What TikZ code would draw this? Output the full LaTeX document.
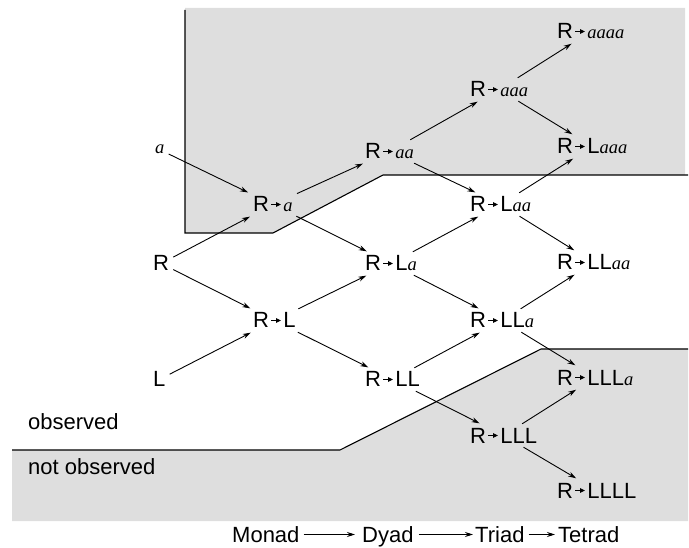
\documentclass[tikz,border=0pt]{standalone}
\usepackage{fontspec}
\setmainfont{Liberation Sans}
\newfontfamily\itser{Liberation Serif}
\usetikzlibrary{arrows.meta}
\newcommand{\ia}[1]{{\fontsize{18.5}{18.5}\selectfont\itser\itshape #1}}
\newcommand{\rar}{\kern1.5pt\tikz[baseline=-7.5pt]\draw[line width=0.9pt,-{Triangle[length=5pt,width=4.5pt]}] (0pt,0pt)--(10pt,0pt);\kern2pt}
\begin{document}
\begin{tikzpicture}[x=1pt,y=-1pt,
  st/.style={anchor=base west, inner sep=4pt, text height=15pt, text depth=0pt, font=\fontsize{22}{24}\selectfont},
  lbl/.style={anchor=base west, inner sep=0pt, font=\fontsize{22}{24}\selectfont},
  bot/.style={anchor=base west, inner sep=2pt, text height=15pt, text depth=0pt, font=\fontsize{22}{24}\selectfont},
  con/.style={-{Stealth[length=8pt,width=5pt]}, line width=0.9pt, shorten >=1pt},
  bnd/.style={line width=1.1pt},
  shadearea/.style={fill=black!13, draw=none}]
\useasboundingbox (0,0) rectangle (689,548);
% shaded regions
\fill[shadearea] (185,8) -- (685,8) -- (685,175) -- (383,175) -- (273,233) -- (185,233) -- cycle;
\fill[shadearea] (12,450) -- (340,450) -- (541,349) -- (688,349) -- (688,521) -- (12,521) -- cycle;
\draw[bnd] (185,10) -- (185,233) -- (273,233) -- (383,175) -- (688,175);
\draw[bnd] (12,450) -- (340,450) -- (541,349) -- (688,349);
% labels
\node[lbl] (obs) at (28,430) {observed};
\node[lbl] (nobs) at (28,475) {not observed};
% nodes
\node[anchor=base west, inner sep=4pt] (a) at (151,154) {\ia{a}};
\node[st] (R) at (149,271) {R};
\node[st] (L) at (149,387) {L};
\node[st] (Ra) at (249,212) {R\rar\ia{a}};
\node[st] (RL) at (249,328) {R\rar L};
\node[st] (Raa) at (361,159) {R\rar\ia{aa}};
\node[st] (RLa) at (361,271) {R\rar L\ia{a}};
\node[st] (RLL) at (361,387) {R\rar LL};
\node[st] (Raaa) at (466,97) {R\rar\ia{aaa}};
\node[st] (RLaa) at (466,212) {R\rar L\ia{aa}};
\node[st] (RLLa) at (466,328) {R\rar LL\ia{a}};
\node[st] (RLLL) at (466,443) {R\rar LLL};
\node[st] (Raaaa) at (553,39) {R\rar\ia{aaaa}};
\node[st] (RLaaa) at (553,154) {R\rar L\ia{aaa}};
\node[st] (RLLaa) at (553,270) {R\rar LL\ia{aa}};
\node[st] (RLLLa) at (553,385) {R\rar LLL\ia{a}};
\node[st] (RLLLL) at (553,498) {R\rar LLLL};
% connectors
\draw[con] (a) -- (Ra);
\draw[con] (R) -- (Ra);
\draw[con] (R) -- (RL);
\draw[con] (L) -- (RL);
\draw[con] (Ra) -- (Raa);
\draw[con] (Ra) -- (RLa);
\draw[con] (RL) -- (RLa);
\draw[con] (RL) -- (RLL);
\draw[con] (Raa) -- (Raaa);
\draw[con] (Raa) -- (RLaa);
\draw[con] (RLa) -- (RLaa);
\draw[con] (RLa) -- (RLLa);
\draw[con] (RLL) -- (RLLa);
\draw[con] (RLL) -- (RLLL);
\draw[con] (Raaa) -- (Raaaa);
\draw[con] (Raaa) -- (RLaaa);
\draw[con] (RLaa) -- (RLaaa);
\draw[con] (RLaa) -- (RLLaa);
\draw[con] (RLLa) -- (RLLaa);
\draw[con] (RLLa) -- (RLLLa);
\draw[con] (RLLL) -- (RLLLa);
\draw[con] (RLLL) -- (RLLLL);
% bottom row
\node[bot] (mon) at (230,542) {Monad};
\node[bot] (dy) at (360,542) {Dyad};
\node[bot] (tri) at (473,542) {Triad};
\node[bot] (tet) at (556,542) {Tetrad};
\draw[con, shorten >=5pt, shorten <=2pt] (mon.east) -- (dy.west);
\draw[con, shorten >=0pt, shorten <=3pt] (dy.east) -- (tri.west);
\draw[con, shorten >=1pt, shorten <=2pt] (tri.east) -- (tet.west);
\end{tikzpicture}
\end{document}
